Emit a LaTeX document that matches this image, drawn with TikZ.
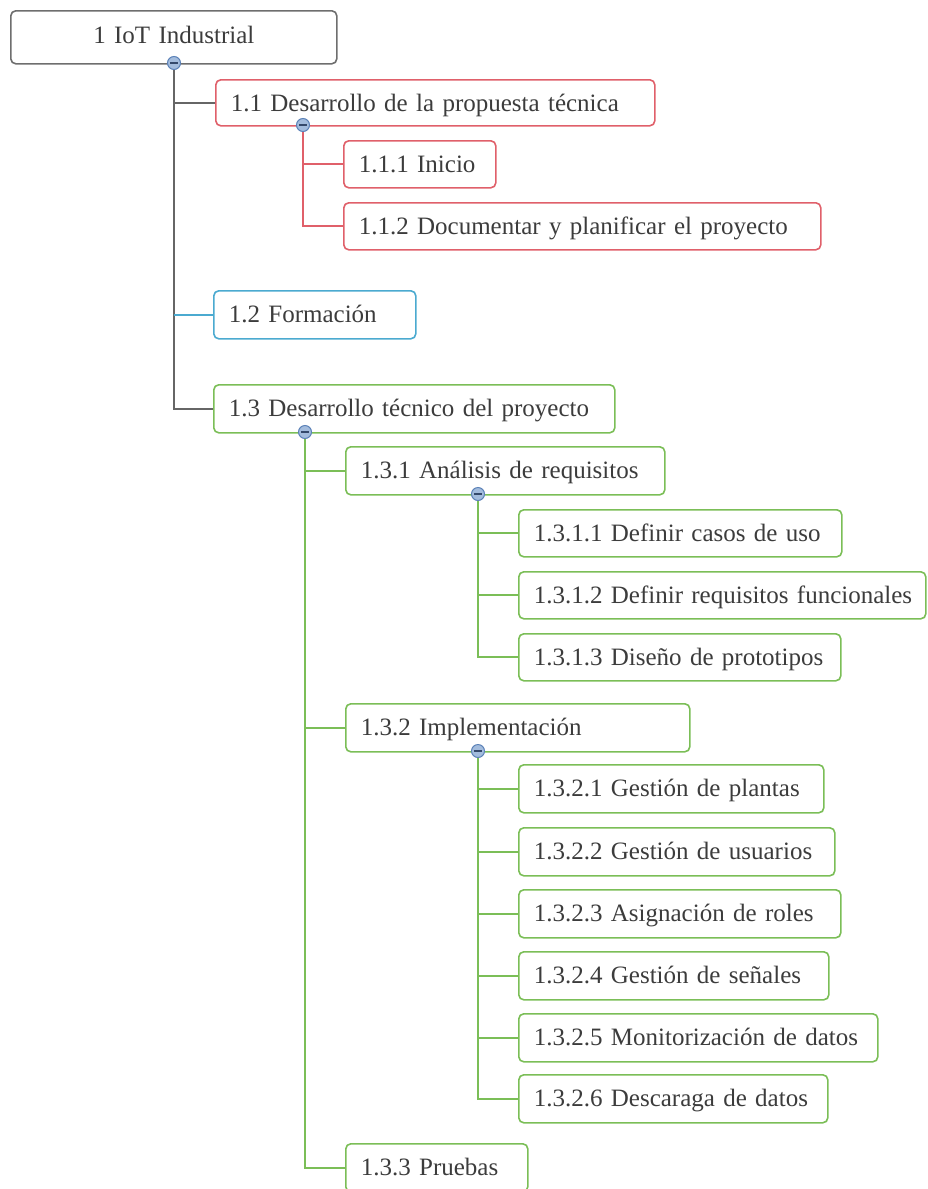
\documentclass[tikz,border=0pt]{standalone}
\usepackage{fontspec}
\setmainfont{Liberation Serif}
\definecolor{txt}{HTML}{3C3C3C}
\definecolor{rootc}{HTML}{6E6E6E}
\definecolor{trunkc}{HTML}{666666}
\definecolor{redc}{HTML}{E0606A}
\definecolor{bluec}{HTML}{4BAAD0}
\definecolor{greenc}{HTML}{7BBE57}
\definecolor{mfill}{HTML}{A3BCDD}
\definecolor{mline}{HTML}{5C82B8}
\definecolor{mdash}{HTML}{34496B}
\tikzset{
  box/.style={rectangle, rounded corners=5pt, line width=1.6pt, fill=white,
    inner xsep=0pt, inner ysep=0pt, anchor=north west, align=left,
    text=txt, font=\fontsize{25}{30}\selectfont},
  link/.style={line width=2.2pt},
  toggle/.style={circle, draw=mline, fill=mfill, line width=1pt,
    minimum size=13pt, inner sep=0pt,
    path picture={\draw[mdash, line width=2pt]
      ([xshift=-3.8pt]path picture bounding box.center) --
      ([xshift=3.8pt]path picture bounding box.center);}}
}
% #1 name, #2 colour, #3/#4 top-left corner, #5/#6 bottom-right corner, #7 label
\newcommand\wbsbox[7]{%
  \pgfmathsetmacro\bw{#5-#3}%
  \pgfmathsetmacro\bh{#6-#4}%
  \pgfmathsetmacro\td{#6-#4-32}%
  \node[box, draw=#2, minimum width=\bw pt, minimum height=\bh pt,
        text width=\bw pt, text height=32pt, text depth=\td pt]
        (#1) at (#3,#4) {\hspace*{15pt}#7};}
\begin{document}
\begin{tikzpicture}[x=1pt,y=-1pt]
\useasboundingbox (0,0) rectangle (927,1189);

% collapse toggles sit on the lower edges of the parent boxes
\coordinate (k0) at (174,63);
\coordinate (k11) at (303,125);
\coordinate (k13) at (305,432);
\coordinate (k131) at (478,494);
\coordinate (k132) at (478,751);

% root
\node[box, draw=rootc, minimum width=326pt, minimum height=53pt,
      align=center, text width=326pt, text height=33pt, text depth=20pt]
      (root) at (10,10) {1 IoT Industrial};

% level 1
\wbsbox{n11}{redc}{215}{79}{654}{125}{1.1 Desarrollo de la propuesta técnica}
\wbsbox{n12}{bluec}{213}{290}{415}{338}{1.2 Formación}
\wbsbox{n13}{greenc}{213}{384}{614}{432}{1.3 Desarrollo técnico del proyecto}

% level 2
\wbsbox{n111}{redc}{343}{140}{495}{187}{1.1.1 Inicio}
\wbsbox{n112}{redc}{343}{202}{820}{249}{1.1.2 Documentar y planificar el proyecto}
\wbsbox{n131}{greenc}{345}{446}{664}{494}{1.3.1 Análisis de requisitos}
\wbsbox{n132}{greenc}{345}{703}{689}{751}{1.3.2 Implementación}
\wbsbox{n133}{greenc}{345}{1143}{527}{1191}{1.3.3 Pruebas}

% level 3
\wbsbox{n1311}{greenc}{518}{509}{841}{556}{1.3.1.1 Definir casos de uso}
\wbsbox{n1312}{greenc}{518}{571}{925}{618}{1.3.1.2 Definir requisitos funcionales}
\wbsbox{n1313}{greenc}{518}{633}{840}{680}{1.3.1.3 Diseño de prototipos}
\wbsbox{n1321}{greenc}{518}{764}{823}{812}{1.3.2.1 Gestión de plantas}
\wbsbox{n1322}{greenc}{518}{827}{834}{875}{1.3.2.2 Gestión de usuarios}
\wbsbox{n1323}{greenc}{518}{889}{840}{937}{1.3.2.3 Asignación de roles}
\wbsbox{n1324}{greenc}{518}{951}{828}{999}{1.3.2.4 Gestión de señales}
\wbsbox{n1325}{greenc}{518}{1013}{877}{1061}{1.3.2.5 Monitorización de datos}
\wbsbox{n1326}{greenc}{518}{1074}{827}{1122}{1.3.2.6 Descaraga de datos}

% connectors
\draw[link, trunkc] (k0) |- (n11.west);
\draw[link, trunkc] (k0) |- (n13.west);
\draw[link, bluec, line width=1.6pt] (n12.west -| k0) -- (n12.west);
\draw[link, redc, line width=1.8pt] (k11) |- (n111.west);
\draw[link, redc, line width=1.8pt] (k11) |- (n112.west);
\foreach \c in {n131,n132,n133}
  \draw[link, greenc, line width=1.8pt] (k13) |- (\c.west);
\foreach \c in {n1311,n1312,n1313}
  \draw[link, greenc, line width=1.8pt] (k131) |- (\c.west);
\foreach \c in {n1321,n1322,n1323,n1324,n1325,n1326}
  \draw[link, greenc, line width=1.8pt] (k132) |- (\c.west);

% toggles
\foreach \k in {k0,k11,k13,k131,k132}
  \node[toggle] (t\k) at (\k) {};
\end{tikzpicture}
\end{document}
